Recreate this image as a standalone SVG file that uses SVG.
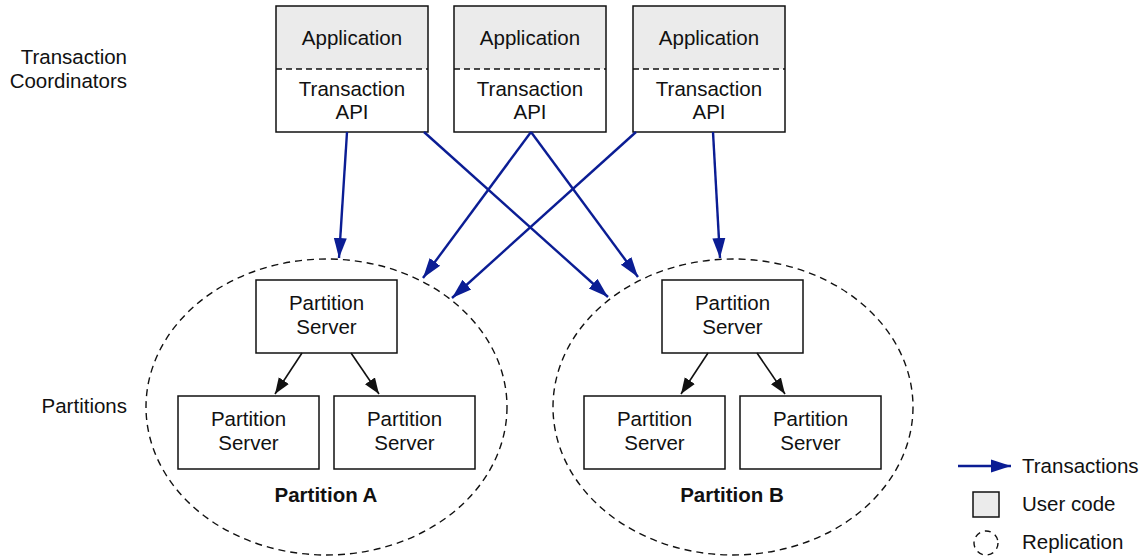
<svg xmlns="http://www.w3.org/2000/svg" width="1142" height="558" viewBox="0 0 1142 558">
<defs>
<style>
text{font-family:"Liberation Sans",Arial,sans-serif;font-size:20.5px;fill:#111;text-anchor:middle}
.r{text-anchor:end}
.s{text-anchor:start}
.b{font-weight:bold}
.box{fill:none;stroke:#111;stroke-width:1.5}
.app{fill:#ebebeb;stroke:none}
.dash{stroke:#111;stroke-width:1.5;stroke-dasharray:6 4;fill:none}
.rep{fill:none;stroke:#111;stroke-width:1.4;stroke-dasharray:7 5}
.tx{stroke:#0b1d94;stroke-width:2.4;fill:none;marker-end:url(#ab)}
.rp{stroke:#111;stroke-width:1.6;fill:none;marker-end:url(#ak)}
</style>
<marker id="ab" markerUnits="userSpaceOnUse" markerWidth="22" markerHeight="16" viewBox="0 0 22 16" refX="20" refY="8" orient="auto"><path d="M0,1.5 L20,8 L0,14.5 z" fill="#0b1d94"/></marker>
<marker id="ak" markerUnits="userSpaceOnUse" markerWidth="18" markerHeight="14" viewBox="0 0 18 14" refX="16" refY="7" orient="auto"><path d="M0,1 L16,7 L0,13 z" fill="#111"/></marker>
</defs>
<rect width="1142" height="558" fill="#fff"/>
<text class="r" x="127" y="64">Transaction</text>
<text class="r" x="127" y="88">Coordinators</text>
<text class="r" x="127" y="413">Partitions</text>
<g id="coord1">
<rect class="app" x="276" y="6" width="152" height="63"/>
<rect class="box" x="276" y="6" width="152" height="126"/>
<line class="dash" x1="276" y1="69" x2="428" y2="69"/>
<text x="352" y="45">Application</text>
<text x="352" y="96">Transaction</text>
<text x="352" y="119">API</text>
</g>
<g id="coord2">
<rect class="app" x="454" y="6" width="152" height="63"/>
<rect class="box" x="454" y="6" width="152" height="126"/>
<line class="dash" x1="454" y1="69" x2="606" y2="69"/>
<text x="530" y="45">Application</text>
<text x="530" y="96">Transaction</text>
<text x="530" y="119">API</text>
</g>
<g id="coord3">
<rect class="app" x="633" y="6" width="152" height="63"/>
<rect class="box" x="633" y="6" width="152" height="126"/>
<line class="dash" x1="633" y1="69" x2="785" y2="69"/>
<text x="709" y="45">Application</text>
<text x="709" y="96">Transaction</text>
<text x="709" y="119">API</text>
</g>
<g id="partitionA">
<ellipse class="rep" cx="326.5" cy="407" rx="180.5" ry="148"/>
<text class="b" x="326" y="502">Partition A</text>
</g>
<g id="psA1"><rect class="box" x="256" y="280" width="141" height="73"/><text x="326.5" y="310">Partition</text><text x="326.5" y="334">Server</text></g>
<g id="psA2"><rect class="box" x="178" y="396" width="141" height="73"/><text x="248.5" y="426">Partition</text><text x="248.5" y="450">Server</text></g>
<g id="psA3"><rect class="box" x="334" y="396" width="141" height="73"/><text x="404.5" y="426">Partition</text><text x="404.5" y="450">Server</text></g>
<g id="partitionB">
<ellipse class="rep" cx="733" cy="407" rx="180" ry="148"/>
<text class="b" x="732" y="502">Partition B</text>
</g>
<g id="psB1"><rect class="box" x="662" y="280" width="141" height="73"/><text x="732.5" y="310">Partition</text><text x="732.5" y="334">Server</text></g>
<g id="psB2"><rect class="box" x="584" y="396" width="141" height="73"/><text x="654.5" y="426">Partition</text><text x="654.5" y="450">Server</text></g>
<g id="psB3"><rect class="box" x="740" y="396" width="141" height="73"/><text x="810.5" y="426">Partition</text><text x="810.5" y="450">Server</text></g>
<g id="connectors">
<line class="tx" x1="347" y1="132" x2="339" y2="258"/>
<line class="tx" x1="424" y1="132" x2="608" y2="297"/>
<line class="tx" x1="531" y1="132" x2="423" y2="278"/>
<line class="tx" x1="531" y1="132" x2="638" y2="277"/>
<line class="tx" x1="636" y1="132" x2="452" y2="298"/>
<line class="tx" x1="713" y1="132" x2="720" y2="258"/>
<line class="rp" x1="302" y1="353" x2="275" y2="394"/>
<line class="rp" x1="351" y1="353" x2="379" y2="394"/>
<line class="rp" x1="708" y1="353" x2="681" y2="394"/>
<line class="rp" x1="757" y1="353" x2="785" y2="394"/>
</g>
<g id="legend">
<line class="tx" x1="958" y1="466" x2="1011" y2="466"/>
<text class="s" x="1022" y="473">Transactions</text>
<rect x="973" y="492" width="26" height="25" fill="#ebebeb" stroke="#111" stroke-width="1.5"/>
<text class="s" x="1022" y="511">User code</text>
<circle cx="986" cy="543" r="12" fill="none" stroke="#111" stroke-width="1.4" stroke-dasharray="6 5"/>
<text class="s" x="1022" y="549">Replication</text>
</g>
</svg>
